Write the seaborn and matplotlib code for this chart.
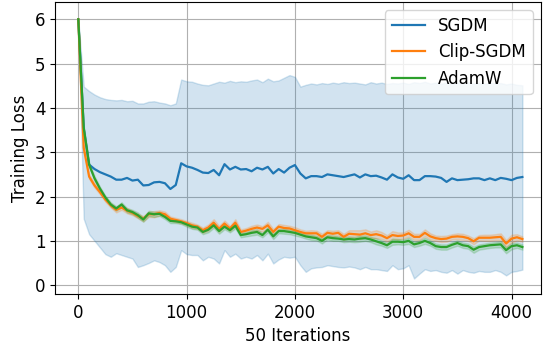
import numpy as np
import pandas as pd
import matplotlib
matplotlib.use("Agg")
import matplotlib.pyplot as plt
import seaborn as sns

plt.rcParams["font.family"] = ["DejaVu Sans"]
plt.rcParams["font.size"] = 12

# one point every 50 iterations
steps = list(range(0, 4101, 50))

sgdm_mid = [6.0, 3.55, 2.72, 2.62, 2.55, 2.5, 2.45, 2.38, 2.38, 2.42,
            2.36, 2.38, 2.25, 2.26, 2.32, 2.33, 2.3, 2.17, 2.26, 2.75,
            2.68, 2.65, 2.6, 2.54, 2.53, 2.6, 2.48, 2.73, 2.61, 2.67,
            2.61, 2.62, 2.57, 2.65, 2.61, 2.67, 2.52, 2.62, 2.54, 2.65,
            2.71, 2.52, 2.41, 2.46, 2.46, 2.44, 2.5, 2.48, 2.46, 2.44,
            2.47, 2.5, 2.43, 2.5, 2.46, 2.47, 2.43, 2.38, 2.5, 2.43,
            2.4, 2.48, 2.37, 2.37, 2.46, 2.46, 2.45, 2.42, 2.33, 2.41,
            2.37, 2.38, 2.39, 2.41, 2.41, 2.37, 2.41, 2.37, 2.42, 2.4,
            2.37, 2.42, 2.44]
sgdm_hi = [6.0, 4.48, 4.38, 4.3, 4.24, 4.2, 4.18, 4.17, 4.18, 4.15,
           4.16, 4.1, 4.1, 4.14, 4.15, 4.12, 4.1, 4.06, 4.1, 4.64,
           4.6, 4.59, 4.55, 4.52, 4.51, 4.55, 4.59, 4.57, 4.61, 4.58,
           4.6, 4.59, 4.62, 4.64, 4.58, 4.66, 4.6, 4.62, 4.68, 4.74,
           4.7, 4.48, 4.52, 4.55, 4.53, 4.56, 4.54, 4.57, 4.55, 4.58,
           4.56, 4.57, 4.55, 4.53, 4.58, 4.55, 4.57, 4.54, 4.56, 4.55,
           4.57, 4.54, 4.58, 4.56, 4.59, 4.55, 4.57, 4.54, 4.58, 4.55,
           4.57, 4.56, 4.58, 4.55, 4.56, 4.54, 4.57, 4.55, 4.56, 4.53,
           4.55, 4.52, 4.51]
sgdm_lo = [6.0, 1.5, 1.15, 1.0, 0.85, 0.7, 0.64, 0.72, 0.68, 0.64,
           0.6, 0.41, 0.45, 0.5, 0.56, 0.52, 0.45, 0.3, 0.41, 0.79,
           0.7, 0.68, 0.68, 0.56, 0.64, 0.6, 0.49, 0.79, 0.64, 0.71,
           0.6, 0.64, 0.6, 0.68, 0.56, 0.71, 0.49, 0.58, 0.64, 0.62,
           0.64, 0.45, 0.3, 0.38, 0.4, 0.41, 0.45, 0.43, 0.41, 0.4,
           0.42, 0.4, 0.36, 0.41, 0.36, 0.36, 0.34, 0.32, 0.45, 0.36,
           0.38, 0.45, 0.15, 0.26, 0.36, 0.32, 0.34, 0.3, 0.28, 0.34,
           0.26, 0.34, 0.3, 0.28, 0.32, 0.3, 0.3, 0.34, 0.3, 0.22,
           0.3, 0.32, 0.35]

clip_mid = [6.0, 3.1, 2.45, 2.25, 2.1, 1.93, 1.8, 1.7, 1.75, 1.68,
            1.63, 1.56, 1.5, 1.6, 1.6, 1.63, 1.6, 1.5, 1.47, 1.44,
            1.4, 1.35, 1.32, 1.24, 1.3, 1.41, 1.27, 1.39, 1.28, 1.41,
            1.2, 1.23, 1.27, 1.3, 1.27, 1.35, 1.2, 1.32, 1.29, 1.28,
            1.24, 1.2, 1.17, 1.17, 1.17, 1.09, 1.18, 1.16, 1.18, 1.09,
            1.16, 1.15, 1.14, 1.17, 1.13, 1.15, 1.12, 1.06, 1.13, 1.11,
            1.12, 1.17, 1.09, 1.09, 1.18, 1.1, 1.06, 1.04, 1.05, 1.09,
            1.1, 1.09, 1.06, 0.99, 1.07, 1.07, 1.07, 1.08, 1.09, 0.94,
            1.05, 1.08, 1.04]
clip_spread = [0.0, 0.05, 0.05, 0.05, 0.05, 0.05, 0.05, 0.06, 0.05, 0.06,
               0.05, 0.05, 0.06, 0.06, 0.07, 0.06, 0.06, 0.05, 0.05, 0.05,
               0.05, 0.06, 0.05, 0.06, 0.07, 0.08, 0.07, 0.07, 0.06, 0.08,
               0.06, 0.06, 0.07, 0.07, 0.06, 0.08, 0.07, 0.06, 0.07, 0.06,
               0.07, 0.06, 0.06, 0.07, 0.06, 0.07, 0.06, 0.07, 0.06, 0.07,
               0.08, 0.09, 0.1, 0.09, 0.08, 0.09, 0.08, 0.07, 0.09, 0.08,
               0.07, 0.08, 0.07, 0.07, 0.08, 0.07, 0.06, 0.07, 0.07, 0.06,
               0.07, 0.07, 0.06, 0.07, 0.06, 0.07, 0.07, 0.07, 0.08, 0.08,
               0.09, 0.07, 0.06]

adamw_mid = [6.0, 3.55, 2.72, 2.41, 2.18, 1.98, 1.82, 1.73, 1.82, 1.69,
             1.65, 1.58, 1.48, 1.62, 1.6, 1.61, 1.54, 1.45, 1.44, 1.42,
             1.37, 1.32, 1.3, 1.2, 1.25, 1.35, 1.22, 1.32, 1.24, 1.34,
             1.13, 1.15, 1.18, 1.2, 1.13, 1.25, 1.1, 1.22, 1.22, 1.2,
             1.18, 1.14, 1.1, 1.08, 1.06, 1.0, 1.08, 1.06, 1.05, 1.03,
             1.04, 1.03, 1.05, 1.06, 1.03, 0.99, 0.95, 0.9, 0.98, 0.98,
             0.97, 1.0, 0.92, 0.95, 1.0, 0.95, 0.88, 0.86, 0.86, 0.91,
             0.95, 0.9, 0.88, 0.8, 0.86, 0.88, 0.9, 0.91, 0.92, 0.79,
             0.88, 0.9, 0.86]
adamw_spread = [0.0, 0.05, 0.05, 0.05, 0.04, 0.04, 0.05, 0.05, 0.05, 0.05,
                0.05, 0.06, 0.05, 0.06, 0.06, 0.05, 0.05, 0.05, 0.04, 0.04,
                0.05, 0.05, 0.05, 0.05, 0.06, 0.06, 0.06, 0.06, 0.05, 0.06,
                0.05, 0.05, 0.06, 0.06, 0.05, 0.06, 0.06, 0.05, 0.06, 0.05,
                0.06, 0.05, 0.05, 0.06, 0.05, 0.06, 0.05, 0.06, 0.05, 0.06,
                0.06, 0.06, 0.07, 0.06, 0.06, 0.07, 0.06, 0.06, 0.07, 0.06,
                0.06, 0.07, 0.06, 0.06, 0.07, 0.06, 0.06, 0.06, 0.06, 0.06,
                0.06, 0.06, 0.06, 0.07, 0.06, 0.06, 0.06, 0.06, 0.07, 0.07,
                0.07, 0.06, 0.06]

names = ["SGDM", "Clip-SGDM", "AdamW"]

rows = []
runs = {
    "SGDM": (sgdm_lo, sgdm_mid, sgdm_hi),
    "Clip-SGDM": ([m - s for m, s in zip(clip_mid, clip_spread)], clip_mid,
                  [m + s for m, s in zip(clip_mid, clip_spread)]),
    "AdamW": ([m - s for m, s in zip(adamw_mid, adamw_spread)], adamw_mid,
              [m + s for m, s in zip(adamw_mid, adamw_spread)]),
}
for name in names:
    for run, vals in enumerate(runs[name]):
        for st, v in zip(steps, vals):
            rows.append({"step": st, "loss": v, "optimizer": name, "run": run})
df = pd.DataFrame(rows)

fig = plt.figure(figsize=(5.43, 3.49), dpi=100)
ax = fig.add_axes([55 / 543, 55 / 349, 486 / 543, 292 / 349])

sns.lineplot(data=df, x="step", y="loss", hue="optimizer", hue_order=names,
             palette=["tab:blue", "tab:orange", "tab:green"],
             estimator="median", errorbar=("pi", 100), linewidth=1.6, ax=ax)

ax.set_xlim(-215, 4272)
ax.set_ylim(-0.2, 6.39)
ax.set_xticks([0, 1000, 2000, 3000, 4000])
ax.set_yticks([0, 1, 2, 3, 4, 5, 6])
ax.grid(True)
ax.set_axisbelow(True)
ax.set_xlabel("50 Iterations")
ax.set_ylabel("Training Loss")

handles, labels = ax.get_legend_handles_labels()
ax.legend(handles, labels, loc="upper right")

fig.savefig("out.png", dpi=100)
